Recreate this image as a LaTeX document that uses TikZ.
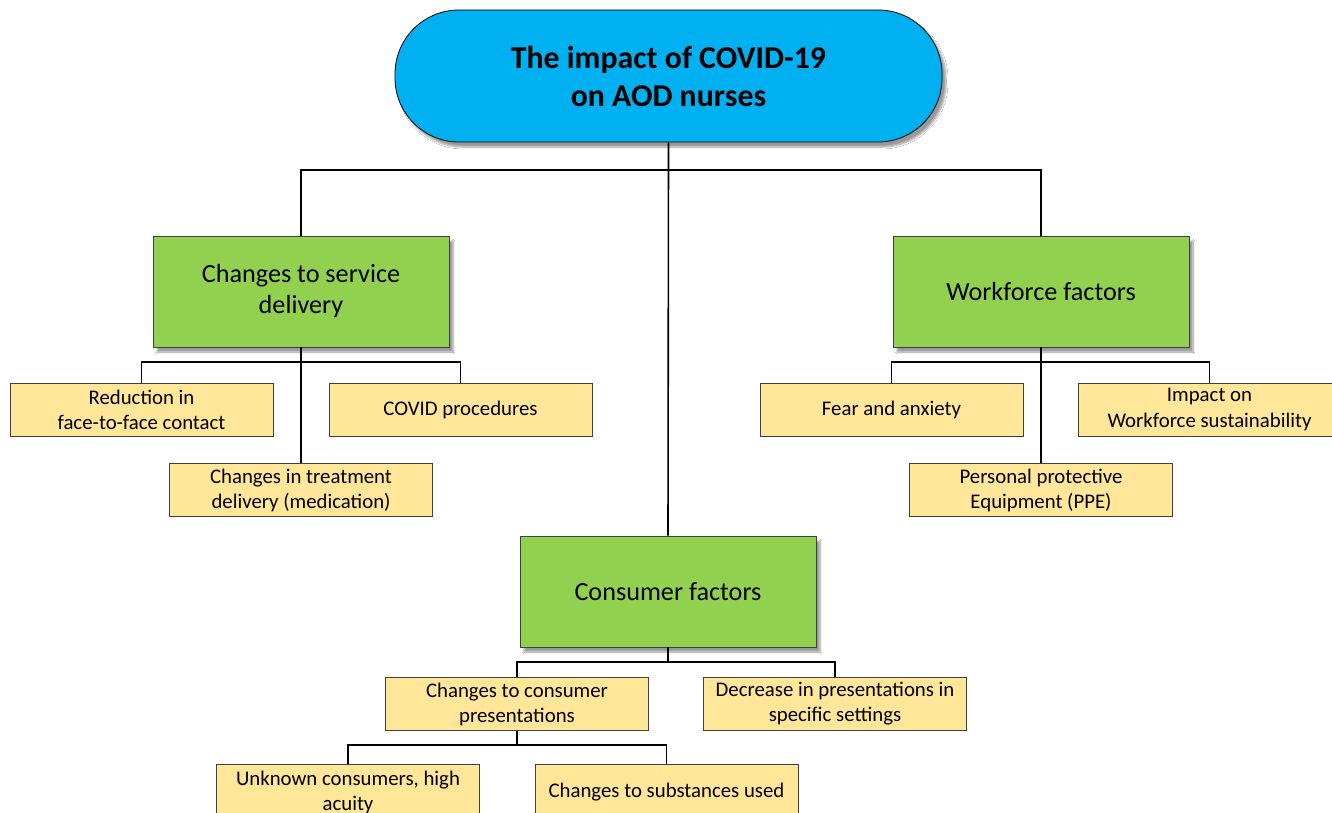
\documentclass[tikz,border=0pt]{standalone}
\usepackage{fontspec}
\setmainfont{Carlito}
\usetikzlibrary{shadows.blur}
\definecolor{topblue}{HTML}{00B0F0}
\definecolor{catgreen}{HTML}{92D050}
\definecolor{leafyellow}{HTML}{FFE699}
\definecolor{edgegray}{HTML}{404040}
\tikzset{
  topnode/.style={draw=black, line width=0.8pt, fill=topblue, rounded corners=64pt,
    minimum width=547pt, minimum height=132pt, align=center,
    font=\fontsize{31.8}{38}\selectfont\bfseries,
    blur shadow={shadow xshift=4pt, shadow yshift=-5pt, shadow blur steps=8}},
  catbox/.style={draw=edgegray, line width=0.8pt, fill=catgreen,
    minimum width=296pt, minimum height=111pt, align=center, inner sep=2pt,
    font=\fontsize{26.2}{31}\selectfont,
    blur shadow={shadow xshift=4pt, shadow yshift=-5pt, shadow blur steps=8}},
  leafbox/.style={draw=edgegray, line width=0.8pt, fill=leafyellow,
    minimum width=263pt, minimum height=53pt, align=center, inner sep=1pt,
    font=\fontsize{20.8}{25}\selectfont},
  conn/.style={draw=black, line width=1.6pt}
}
\begin{document}
\begin{tikzpicture}[x=1pt,y=-1pt]
\useasboundingbox[fill=white] (0,0) rectangle (1332,813);
% nodes
\node[topnode] (top) at (668.5,76) {The impact of COVID-19\\on AOD nurses};
\node[catbox] (sd) at (301,291.5) {Changes to service\\delivery};
\node[catbox] (wf) at (1041,291.5) {Workforce factors};
\node[catbox] (cf) at (668,591.5) {Consumer factors};
\node[leafbox] (red) at (141.5,409.5) {Reduction in\\face-to-face contact};
\node[leafbox] (cov) at (460.5,409.5) {COVID procedures};
\node[leafbox] (trt) at (301,490) {Changes in treatment\\delivery (medication)};
\node[leafbox] (fear) at (891.5,409.5) {Fear and anxiety};
\node[leafbox] (imp) at (1209.5,409.5) {Impact on\\Workforce sustainability};
\node[leafbox] (ppe) at (1041,490) {Personal protective\\Equipment (PPE)};
\node[leafbox] (ccp) at (517,704) {Changes to consumer\\presentations};
\node[leafbox] (dec) at (835,704) {Decrease in presentations in\\specific settings};
\node[leafbox, minimum height=55pt] (unk) at (348,792) {Unknown consumers, high\\acuity};
\node[leafbox, minimum height=55pt] (sub) at (666.5,792) {Changes to substances used};
% junction coordinates
\coordinate (j1) at (668.5,170);
\coordinate (j2) at (301,362);
\coordinate (j3) at (1041,362);
\coordinate (j4) at (668,662);
\coordinate (j5) at (517,745);
% connectors
\draw[conn] (top.south) -- (cf.north);
\draw[conn] (sd.north) |- (j1) -| (wf.north);
\draw[conn] (sd.south) -- (trt.north);
\draw[conn] (red.north) |- (j2) -| (cov.north);
\draw[conn] (wf.south) -- (ppe.north);
\draw[conn] (fear.north) |- (j3) -| (imp.north);
\draw[conn] (cf.south) -- (j4);
\draw[conn] (ccp.north) |- (j4) -| (dec.north);
\draw[conn] (ccp.south) -- (j5);
\draw[conn] (unk.north) |- (j5) -| (sub.north);
\end{tikzpicture}
\end{document}
